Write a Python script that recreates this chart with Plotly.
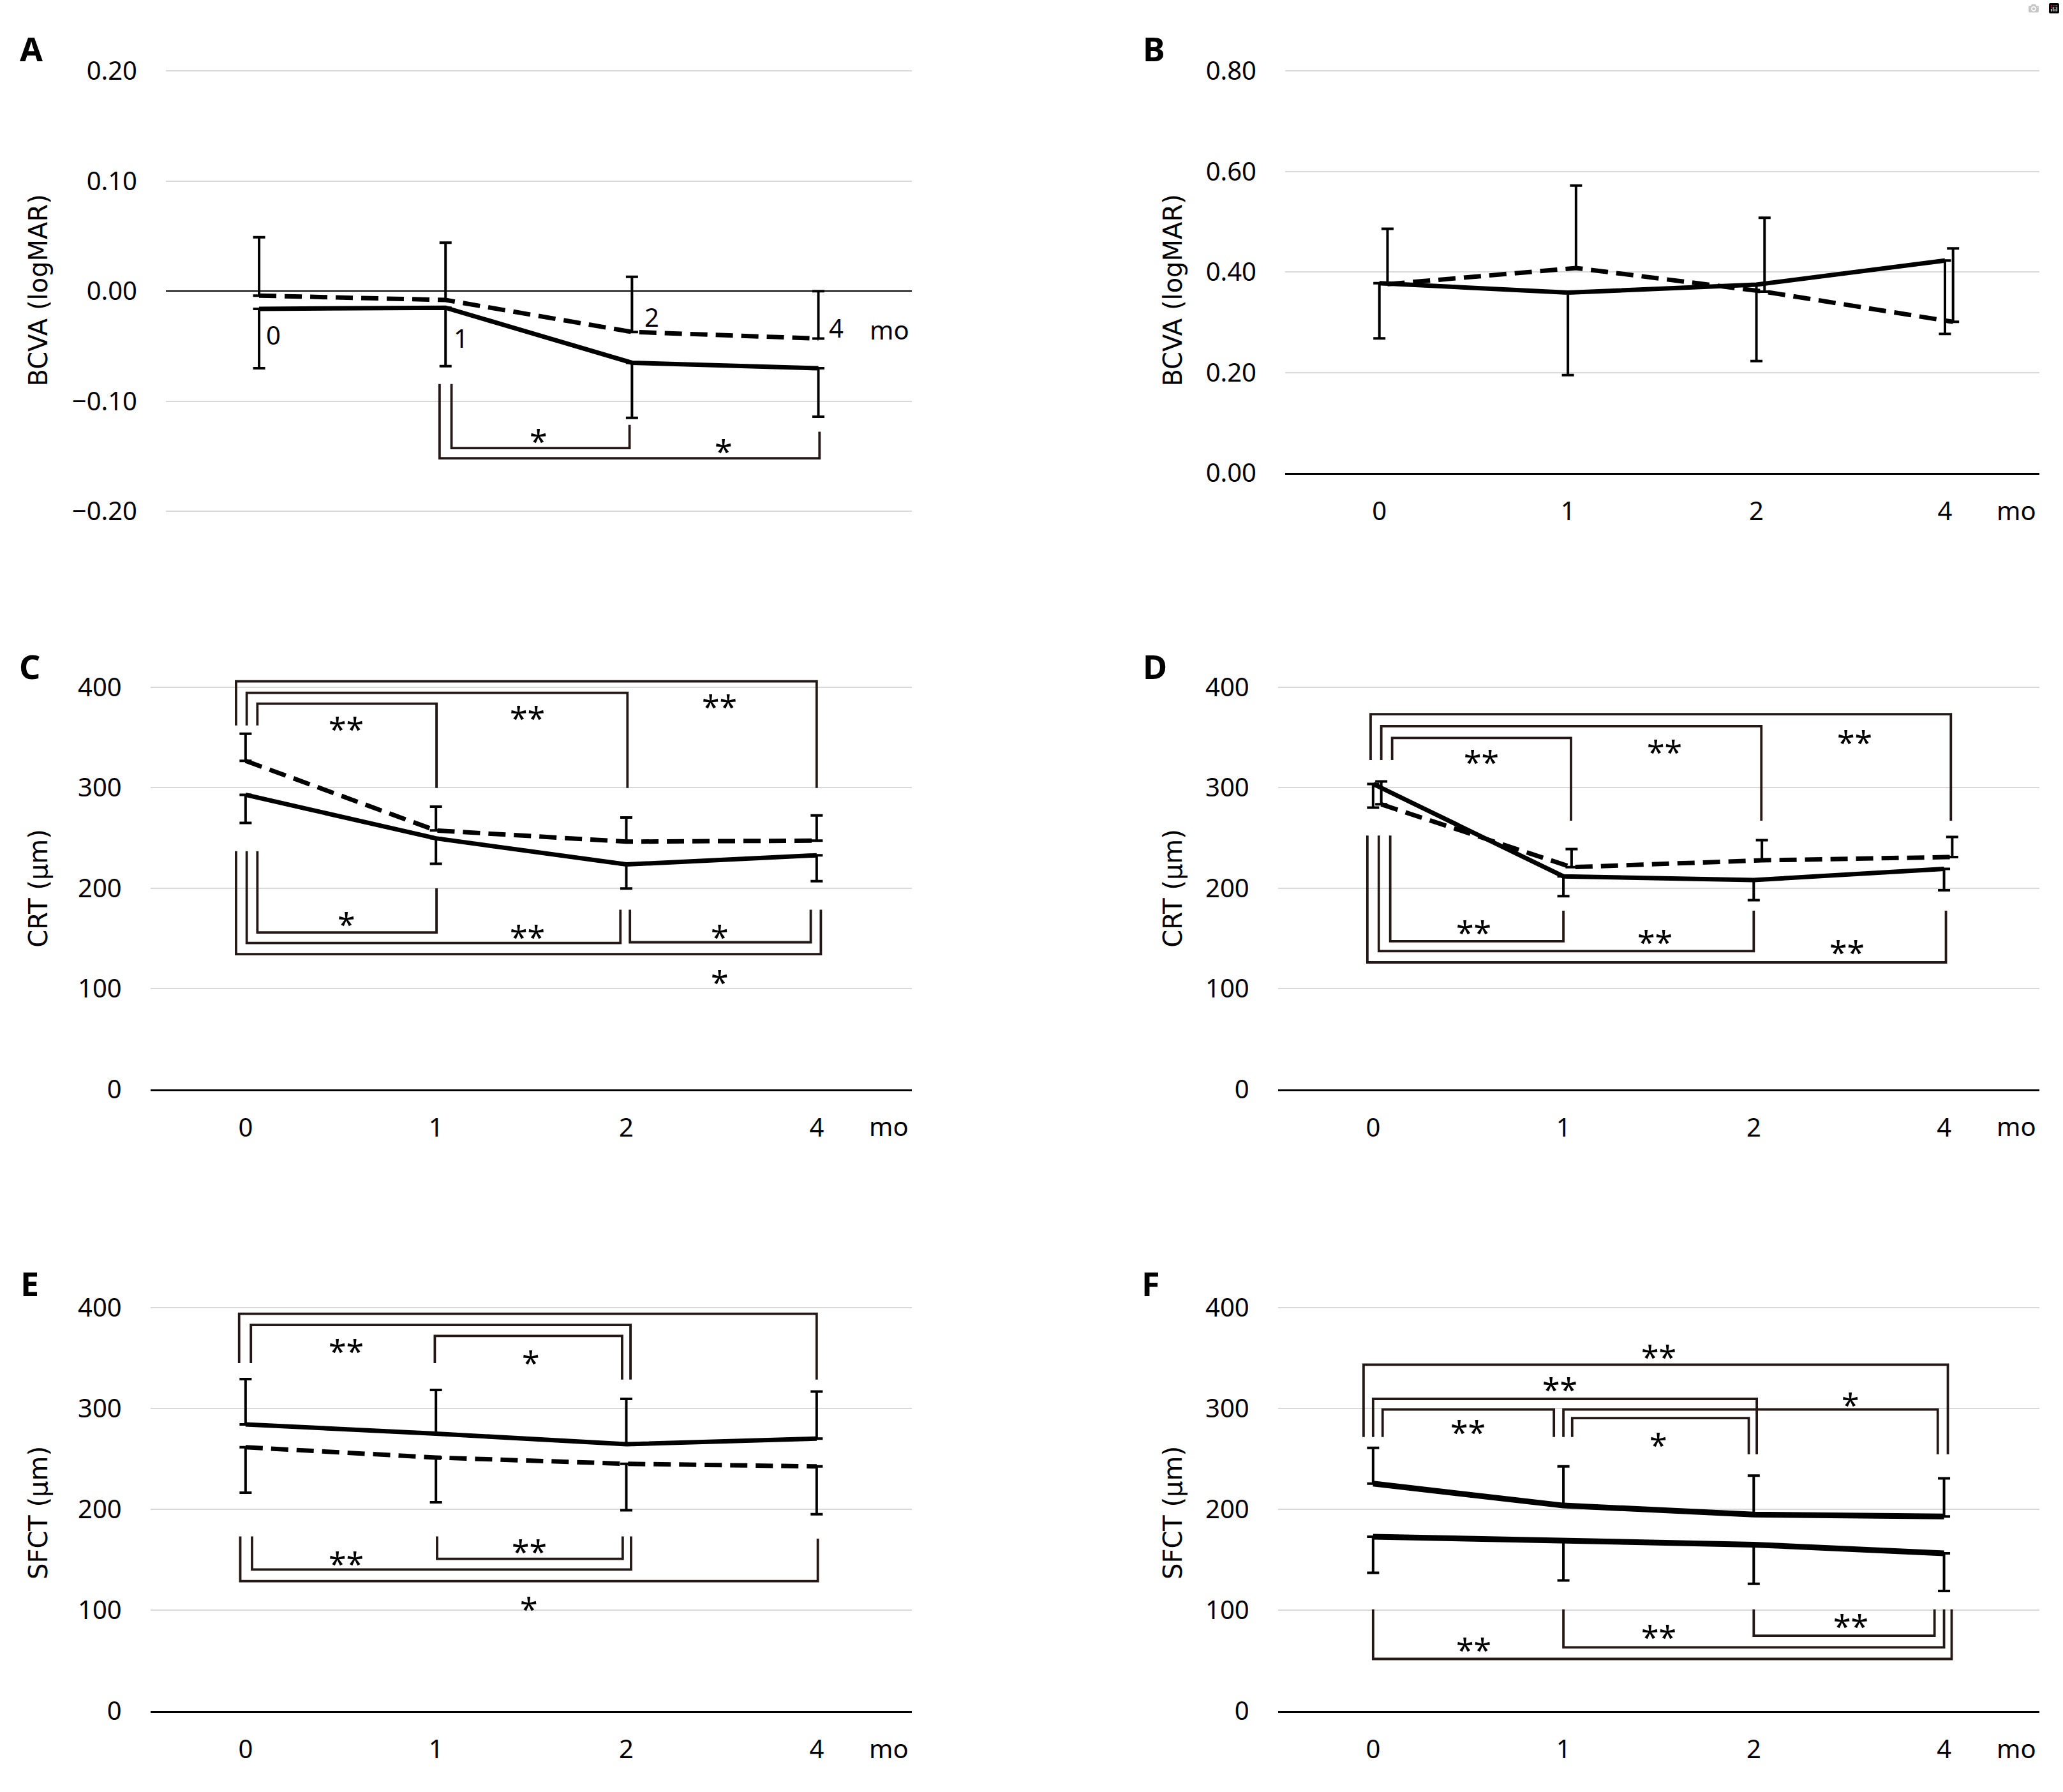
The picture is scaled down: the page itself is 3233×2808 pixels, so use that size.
import plotly.graph_objects as go

W, H = 3233, 2808
months = ["0", "1", "2", "4"]
xpos = [0, 1, 2, 3]

# ---------------- data ----------------
# A: BCVA (logMAR)
a_solid = [-0.016, -0.015, -0.065, -0.070]
a_solid_sd = [0.054, 0.053, 0.050, 0.044]
a_dash = [-0.004, -0.008, -0.037, -0.043]
a_dash_sd = [0.053, 0.052, 0.050, 0.043]
a_ticks = [-0.2, -0.1, 0.0, 0.1, 0.2]
a_ticktext = ["\u22120.20", "\u22120.10", "0.00", "0.10", "0.20"]

# B: BCVA (logMAR)
b_solid = [0.378, 0.359, 0.375, 0.423]
b_solid_sd = [0.110, 0.164, 0.152, 0.146]
b_dash = [0.376, 0.408, 0.361, 0.301]
b_dash_sd = [0.110, 0.164, 0.147, 0.146]
b_ticks = [0.0, 0.2, 0.4, 0.6, 0.8]
b_ticktext = ["0.00", "0.20", "0.40", "0.60", "0.80"]

# C: CRT (um)
c_solid = [292.8, 249.5, 223.5, 232.6]
c_solid_sd = [28.0, 25.3, 24.0, 25.7]
c_dash = [326.6, 257.3, 246.2, 247.2]
c_dash_sd = [27.0, 23.7, 24.0, 25.0]

# D: CRT (um)
d_solid = [303.6, 211.7, 208.0, 219.1]
d_solid_sd = [23.6, 19.7, 20.0, 21.3]
d_dash = [283.3, 220.8, 227.6, 230.9]
d_dash_sd = [22.7, 18.0, 20.0, 20.0]

# E: SFCT (um)
e_solid = [284.3, 275.1, 264.6, 270.2]
e_solid_sd = [45.0, 43.4, 45.0, 46.6]
e_dash = [261.6, 251.4, 245.2, 242.6]
e_dash_sd = [45.0, 44.4, 46.0, 47.4]

# F: SFCT (um)
f_upper = [225.5, 203.8, 194.9, 192.9]
f_upper_sd = [35.5, 38.8, 38.5, 37.8]
f_lower = [172.9, 168.3, 165.0, 156.4]
f_lower_sd = [35.9, 38.8, 38.8, 37.4]

um_ticks = [0, 100, 200, 300, 400]
um_ticktext = ["0", "100", "200", "300", "400"]

# significance brackets: (x_left, x_right, y_bar, y_left_end, y_right_end, label, label_x, label_y)
a_brackets = [
    (1.032, 1.987, -0.1424, -0.0843, -0.1214, "*", 1.50, -0.129),
    (0.968, 3.006, -0.1517, -0.0843, -0.1276, "*", 2.49, -0.1384),
]
c_brackets = [
    (-0.050, 3.000, 405.7, 361.8, 299.6, "**", 2.49, 388.2),
    (0.006, 2.006, 394.3, 361.8, 299.6, "**", 1.48, 377.0),
    (0.062, 1.003, 383.4, 361.8, 299.6, "**", 0.53, 366.2),
    (0.062, 1.003, 155.9, 236.7, 199.8, "*", 0.53, 171.8),
    (0.006, 1.969, 145.4, 236.7, 178.5, "**", 1.48, 159.3),
    (2.019, 2.969, 146.1, 178.5, 178.5, "*", 2.49, 158.9),
    (-0.050, 3.022, 134.2, 236.7, 178.5, "*", 2.49, 114.3),
]
d_brackets = [
    (-0.013, 3.036, 373.0, 327.3, 267.1, "**", 2.53, 352.7),
    (0.043, 2.040, 361.1, 327.3, 267.1, "**", 1.53, 343.2),
    (0.100, 1.040, 349.3, 327.3, 267.1, "**", 0.57, 333.0),
    (0.090, 1.000, 147.1, 252.2, 177.5, "**", 0.53, 163.3),
    (0.030, 2.000, 137.3, 252.2, 177.5, "**", 1.48, 154.2),
    (-0.030, 3.010, 126.1, 252.2, 177.5, "**", 2.49, 143.7),
]
e_brackets = [
    (-0.034, 3.000, 394.1, 345.1, 328.7, "**", 1.49, 412.2),
    (0.028, 2.022, 382.9, 345.1, 328.7, "**", 0.53, 364.8),
    (0.994, 1.978, 372.1, 345.1, 328.7, "*", 1.50, 353.3),
    (1.006, 1.981, 150.9, 173.2, 173.2, "**", 1.49, 165.7),
    (0.034, 2.025, 140.3, 173.2, 173.2, "**", 0.53, 154.1),
    (-0.028, 3.006, 128.8, 173.2, 170.9, "*", 1.49, 109.1),
]
f_brackets = [
    (-0.050, 3.020, 343.5, 271.8, 254.7, "**", 1.50, 358.9),
    (0.000, 2.016, 309.6, 271.8, 254.7, "**", 0.98, 326.7),
    (0.050, 0.950, 299.1, 271.8, 271.8, "**", 0.50, 284.0),
    (1.000, 2.967, 299.1, 271.8, 254.7, "*", 2.51, 311.3),
    (1.046, 1.974, 290.5, 271.8, 254.7, "*", 1.50, 271.8),
    (2.000, 2.950, 74.6, 100.9, 100.9, "**", 2.51, 91.7),
    (1.000, 3.000, 63.1, 100.9, 100.9, "**", 1.50, 81.2),
    (0.000, 3.040, 51.6, 100.9, 100.9, "**", 0.53, 68.7),
]

# panel A category labels sit next to the error bars
a_label_pos = [(0.076, -0.0395), (1.083, -0.0426), (2.108, -0.0235), (3.096, -0.0334)]

# ---------------- styling / layout ----------------
TICK_FONT = dict(family="Noto Sans", size=40, color="black")
TITLE_FONT = dict(family="DejaVu Sans", size=40, color="black")
STAR_FONT = dict(family="Noto Sans", size=50, color="black")
LETTER_FONT = dict(family="Noto Sans", size=52, color="black", weight="bold")
GRID = "#d9d9d9"
BRACKET = "#231815"
DASH = "27px,13px"

panels = [
    dict(key="A", xpx=(260.0, 1428.6), ypx=(82.9, 802.5), yr=(-0.205, 0.205),
         ticks=a_ticks, ticktext=a_ticktext, title="BCVA (logMAR)",
         series=[(a_dash, a_dash_sd, "plus", True, 7.0, 0.0),
                 (a_solid, a_solid_sd, "minus", False, 7.0, 0.0)],
         brackets=a_brackets, letter=(49, 55.5), titlepos=(60, 442), axis_at_zero=True),
    dict(key="B", xpx=(2014.0, 3195.7), ypx=(83.7, 732.7), yr=(0.0, 0.81),
         ticks=b_ticks, ticktext=b_ticktext, title="BCVA (logMAR)",
         series=[(b_dash, b_dash_sd, "plus", True, 7.0, 0.043),
                 (b_solid, b_solid_sd, "minus", False, 7.0, 0.0)],
         brackets=[], letter=(1808, 55.5), titlepos=(1838, 441), axis_at_zero=False),
    dict(key="C", xpx=(235.7, 1429.0), ypx=(1054.3, 1714.3), yr=(0.0, 412.0),
         ticks=um_ticks, ticktext=um_ticktext, title="CRT (\u03bcm)",
         series=[(c_dash, c_dash_sd, "plus", True, 7.0, 0.0),
                 (c_solid, c_solid_sd, "minus", False, 7.0, 0.0)],
         brackets=c_brackets, letter=(46, 1040), titlepos=(60, 1394), axis_at_zero=False),
    dict(key="D", xpx=(2002.7, 3195.7), ypx=(1054.3, 1714.3), yr=(0.0, 412.0),
         ticks=um_ticks, ticktext=um_ticktext, title="CRT (\u03bcm)",
         series=[(d_dash, d_dash_sd, "plus", True, 7.0, 0.043),
                 (d_solid, d_solid_sd, "minus", False, 7.0, 0.0)],
         brackets=d_brackets, letter=(1810, 1040), titlepos=(1838, 1394), axis_at_zero=False),
    dict(key="E", xpx=(235.7, 1429.0), ypx=(2054.7, 2705.3), yr=(0.0, 405.0),
         ticks=um_ticks, ticktext=um_ticktext, title="SFCT (\u03bcm)",
         series=[(e_solid, e_solid_sd, "plus", False, 7.0, 0.0),
                 (e_dash, e_dash_sd, "minus", True, 7.0, 0.0)],
         brackets=e_brackets, letter=(46, 2023), titlepos=(60, 2389), axis_at_zero=False),
    dict(key="F", xpx=(2002.7, 3195.7), ypx=(2054.7, 2705.3), yr=(0.0, 405.0),
         ticks=um_ticks, ticktext=um_ticktext, title="SFCT (\u03bcm)",
         series=[(f_upper, f_upper_sd, "plus", False, 9.0, 0.0),
                 (f_lower, f_lower_sd, "minus", False, 9.0, 0.0)],
         brackets=f_brackets, letter=(1803, 2023), titlepos=(1838, 2389), axis_at_zero=False),
]

fig = go.Figure()
annotations = []
layout = dict(
    width=W, height=H, autosize=False,
    margin=dict(l=0, r=0, t=0, b=0, pad=0),
    paper_bgcolor="white", plot_bgcolor="white",
    showlegend=False,
)

for i, p in enumerate(panels):
    n = "" if i == 0 else str(i + 1)
    xa, ya = "x" + n, "y" + n
    x0, x1 = p["xpx"]
    y0, y1 = p["ypx"]

    # significance brackets
    for (bl, br, yb, yl, yr_, lab, lx, ly) in p["brackets"]:
        fig.add_trace(go.Scatter(
            x=[bl, bl, br, br], y=[yl, yb, yb, yr_], mode="lines",
            line=dict(color=BRACKET, width=3.8), xaxis=xa, yaxis=ya,
            hoverinfo="skip"))
        annotations.append(dict(x=lx, y=ly, xref=xa, yref=ya, text=lab,
                                showarrow=False, font=STAR_FONT, yshift=-12,
                                xanchor="center", yanchor="middle"))

    # series with one-sided error bars
    for (vals, sd, direction, dashed, lw, off) in p["series"]:
        zeros = [0] * len(sd)
        err = dict(type="data", symmetric=False, color="black",
                   thickness=4, width=9.5,
                   array=sd if direction == "plus" else zeros,
                   arrayminus=sd if direction == "minus" else zeros)
        fig.add_trace(go.Scatter(
            x=[v + off for v in xpos], y=vals, mode="lines",
            line=dict(color="black", width=lw, dash=DASH if dashed else "solid"),
            error_y=err, xaxis=xa, yaxis=ya, hoverinfo="skip"))

    xdom = [x0 / W, x1 / W]
    ydom = [1 - y1 / H, 1 - y0 / H]

    xaxis = dict(domain=xdom, range=[-0.5, 3.5], anchor=ya, showgrid=False,
                 zeroline=False, fixedrange=True)
    yaxis = dict(domain=ydom, range=list(p["yr"]), anchor=xa,
                 tickvals=p["ticks"], ticktext=p["ticktext"], tickfont=TICK_FONT,
                 showgrid=True, gridcolor=GRID, gridwidth=2.2,
                 ticks="outside", ticklen=36, tickcolor="rgba(0,0,0,0)",
                 showline=False, fixedrange=True)
    if p["axis_at_zero"]:
        xaxis.update(showticklabels=False, showline=False)
        yaxis.update(zeroline=True, zerolinecolor="black", zerolinewidth=2.2)
        for (lx, ly), m in zip(a_label_pos, months):
            annotations.append(dict(x=lx, y=ly, xref=xa, yref=ya, text=m,
                                    showarrow=False, font=TICK_FONT,
                                    xanchor="center", yanchor="middle"))
        annotations.append(dict(x=3.38, y=a_label_pos[-1][1], xref=xa, yref=ya,
                                text="mo", showarrow=False, font=TICK_FONT,
                                xanchor="center", yanchor="middle", yshift=-3))
    else:
        xaxis.update(tickvals=xpos, ticktext=months, tickfont=TICK_FONT,
                     showline=True, linecolor="black", linewidth=3,
                     ticks="outside", ticklen=23, tickcolor="rgba(0,0,0,0)")
        yaxis.update(zeroline=False)
        annotations.append(dict(x=3.38, y=0, xref=xa, yref=ya + " domain",
                                text="mo", showarrow=False, font=TICK_FONT,
                                xanchor="center", yanchor="middle", yshift=-58))

    layout["xaxis" + n] = xaxis
    layout["yaxis" + n] = yaxis

    # panel letter and axis title
    lx, ly = p["letter"]
    annotations.append(dict(x=lx / W, y=1 - ly / H, xref="paper", yref="paper",
                            text=p["key"], showarrow=False, font=LETTER_FONT,
                            xanchor="center", yanchor="middle"))
    tx, ty = p["titlepos"]
    annotations.append(dict(x=tx / W, y=1 - ty / H, xref="paper", yref="paper",
                            text=p["title"], showarrow=False, font=TITLE_FONT,
                            textangle=-90, xanchor="center", yanchor="middle"))

layout["annotations"] = annotations
fig.update_layout(**layout)

fig.write_html("out.html",
               post_script="document.body.style.margin='0';document.body.style.overflow='hidden';")
